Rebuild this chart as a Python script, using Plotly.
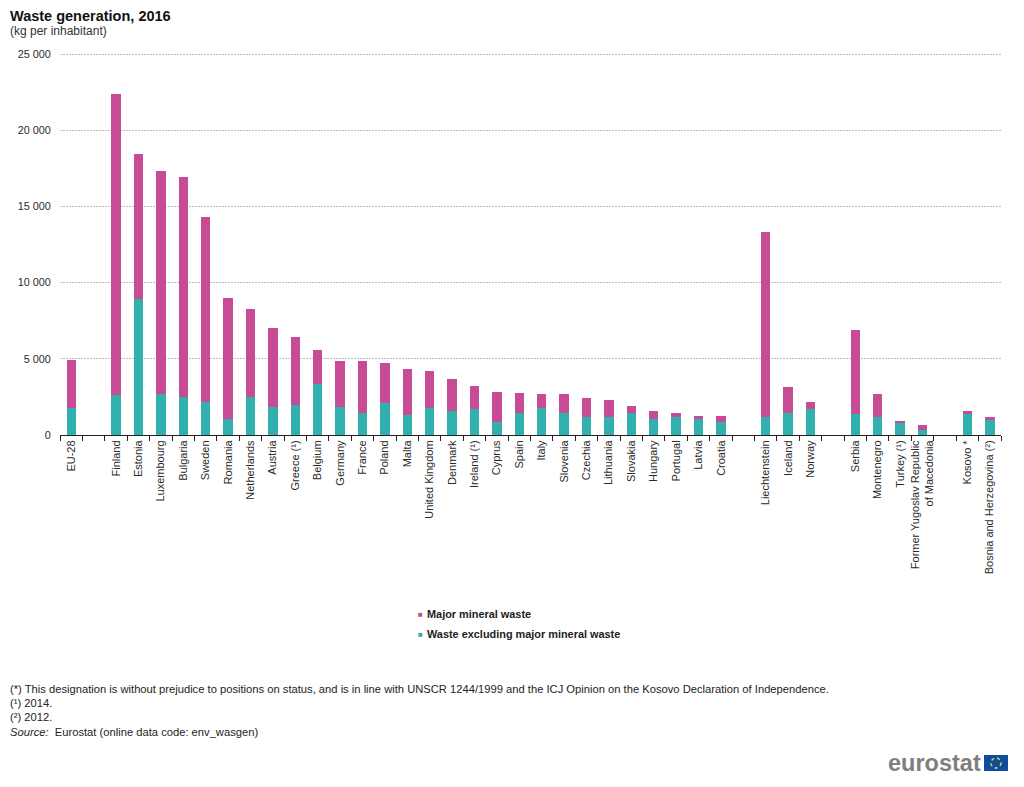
import plotly.graph_objects as go

categories = ["EU-28", " ", "Finland", "Estonia", "Luxembourg", "Bulgaria", "Sweden", "Romania",
              "Netherlands", "Austria", "Greece (¹)", "Belgium", "Germany", "France", "Poland", "Malta",
              "United Kingdom", "Denmark", "Ireland (¹)", "Cyprus", "Spain", "Italy", "Slovenia", "Czechia",
              "Lithuania", "Slovakia", "Hungary", "Portugal", "Latvia", "Croatia", "  ",
              "Liechtenstein", "Iceland", "Norway", "   ", "Serbia", "Montenegro", "Turkey (¹)",
              "Former Yugoslav Republic<br>of Macedonia", "    ", "Kosovo *", "Bosnia and Herzegovina (²)"]

excluding_mineral = [1800, None, 2600, 8950, 2700, 2500, 2150, 1050, 2500, 1850, 1950, 3350, 1850, 1450,
                     2100, 1300, 1800, 1600, 1700, 850, 1450, 1800, 1450, 1200, 1200, 1450, 1050, 1150,
                     1050, 850, None, 1200, 1450, 1700, None, 1400, 1150, 850, 300, None, 1400, 1000]

major_mineral = [3150, None, 19800, 9500, 14650, 14400, 12150, 7950, 5800, 5150, 4450, 2200, 3000, 3400,
                 2650, 3000, 2400, 2050, 1500, 2000, 1300, 900, 1250, 1200, 1100, 450, 550, 300,
                 200, 400, None, 12100, 1700, 450, None, 5500, 1550, 100, 350, None, 200, 150]

y_ticks = [0, 5000, 10000, 15000, 20000, 25000]

footnotes = ["(*) This designation is without prejudice to positions on status, and is in line with UNSCR 1244/1999 and the ICJ Opinion on the Kosovo Declaration of Independence.",
             "(¹) 2014.",
             "(²) 2012.",
             "<i>Source:</i>  Eurostat (online data code: env_wasgen)"]

PINK = "#C84B96"
TEAL = "#32AFAF"
INK = "#2A2A2A"
FONT = "Liberation Sans"
W, H = 1024, 787
L, R, T, B = 60, 23, 51, 352


def px(x):
    return (x - L) / (W - L - R)


def py(y):
    return 1 - (y - T) / (H - T - B)


fig = go.Figure()
fig.add_bar(x=categories, y=excluding_mineral, name="Waste excluding major mineral waste",
            marker=dict(color=TEAL, line_width=0), width=0.42, showlegend=False)
fig.add_bar(x=categories, y=major_mineral, name="Major mineral waste",
            marker=dict(color=PINK, line_width=0), width=0.42, showlegend=False)

ann = []


def text(x, y, s, size=12, color="#222222", family=FONT, **kw):
    ann.append(dict(x=px(x), y=py(y), xref="paper", yref="paper", xanchor="left", yanchor="middle",
                    text=s, showarrow=False, align="left", borderpad=0,
                    font=dict(size=size, color=color, family=family), **kw))


text(8.5, 16, "<b>Waste generation, 2016</b>", size=14.5, color="#111111")
text(8.5, 31, "(kg per inhabitant)", size=12, color="#333333")

text(417, 614, f"<span style='color:{PINK}'>■</span>", size=8)
text(425.5, 614, "<b>Major mineral waste</b>", size=10.9)
text(417, 634, f"<span style='color:{TEAL}'>■</span>", size=8)
text(425.5, 634, "<b>Waste excluding major mineral waste</b>", size=10.9)

for line, y in zip(footnotes, [689, 703, 717, 732]):
    text(8.5, y, line, size=11.2, color="#222222")

text(887, 763, "<b>eurostat</b>", size=23.5, color="#7F7F7F", family="Liberation Sans")

shapes = [
    dict(type="rect", xref="paper", yref="paper", x0=px(984), x1=px(1008), y0=py(771), y1=py(755),
         fillcolor="#0F4C9C", line_width=0),
    dict(type="circle", xref="paper", yref="paper", x0=px(991), x1=px(1001), y0=py(768), y1=py(758),
         fillcolor="rgba(0,0,0,0)", line=dict(color="#E8D33F", width=1.5, dash="dot")),
]

fig.update_layout(
    width=W, height=H,
    margin=dict(l=L, r=R, t=T, b=B, pad=0),
    barmode="stack",
    bargap=0.58,
    separators=". ",
    paper_bgcolor="white",
    plot_bgcolor="white",
    font=dict(family=FONT, size=11, color=INK),
    annotations=ann,
    shapes=shapes,
    xaxis=dict(type="category", categoryorder="array", categoryarray=categories,
               tickmode="array", tickvals=categories, ticktext=categories,
               tickson="boundaries", ticks="outside", ticklen=5, tickcolor="#222222", tickwidth=1,
               showline=True, linecolor="#222222", linewidth=1,
               tickangle=-90, tickfont=dict(size=11, color=INK, family=FONT),
               showgrid=False, zeroline=False, automargin=False),
    yaxis=dict(range=[0, 25197], tickmode="array", tickvals=y_ticks, tickformat=",",
               ticks="outside", ticklen=6, tickcolor="rgba(0,0,0,0)",
               showline=False, zeroline=False,
               showgrid=True, gridcolor="#BDBDBD", griddash="2px,1px", gridwidth=1,
               tickfont=dict(size=10.8, color=INK, family=FONT), automargin=False),
)

fig.write_html("out.html", config={"displayModeBar": False},
               post_script="document.body.style.margin='0';")
